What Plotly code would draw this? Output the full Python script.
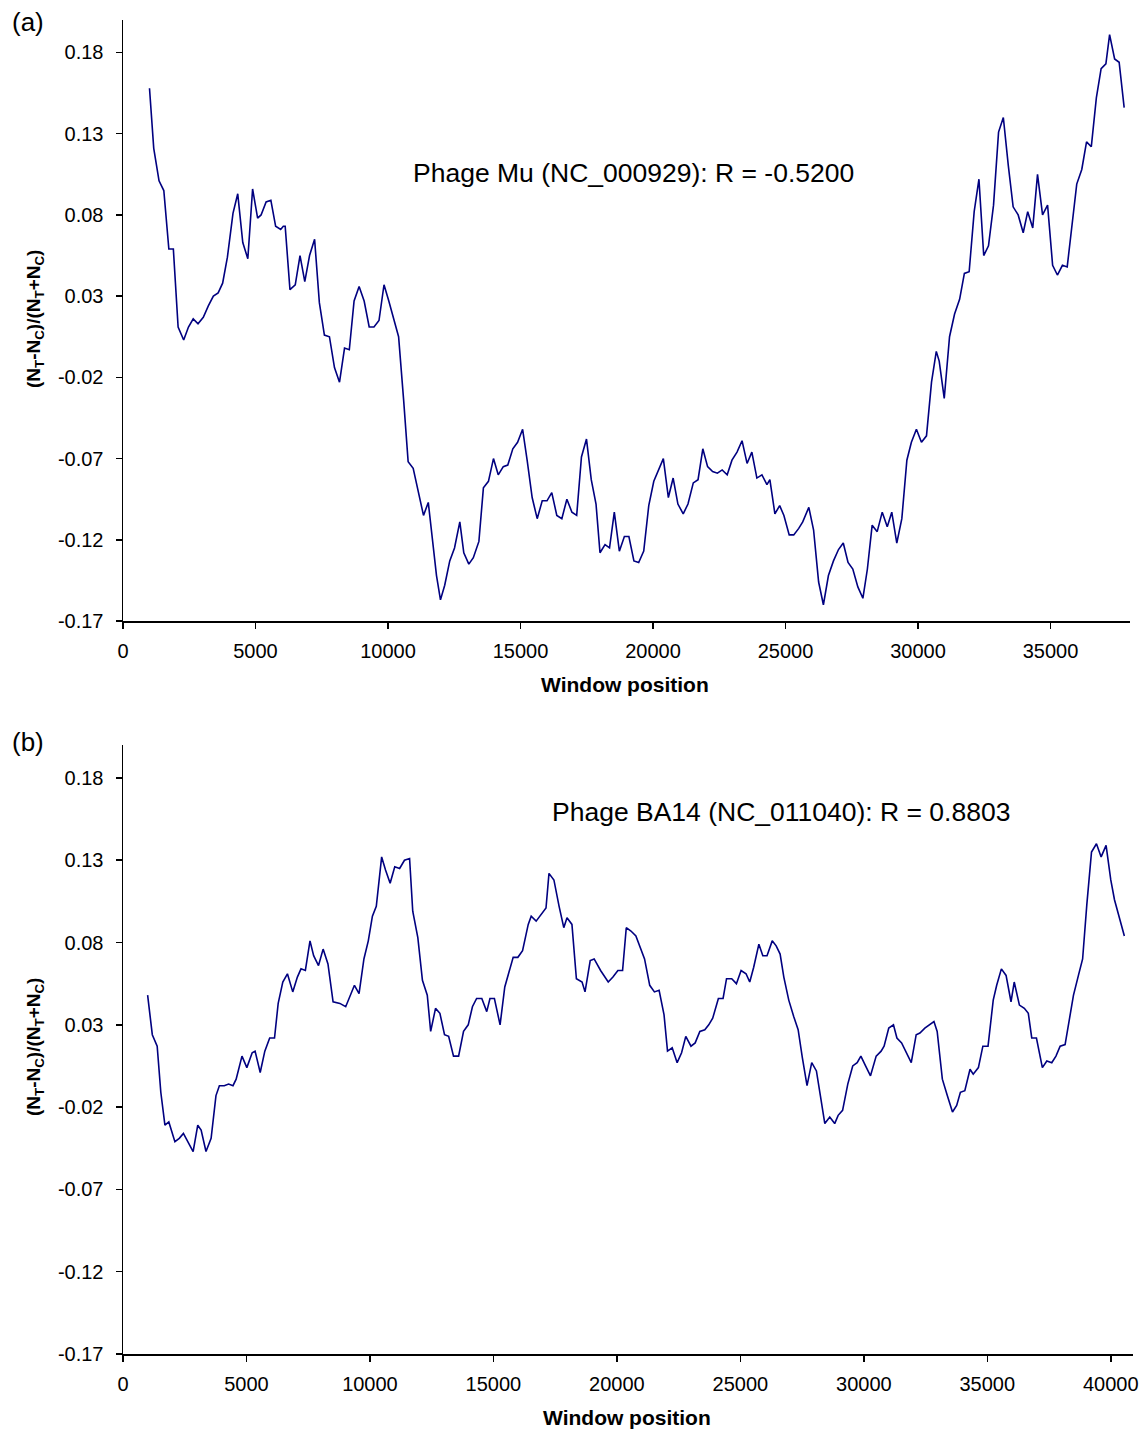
import plotly.graph_objects as go

# ---------------- data: panel (a) Phage Mu ----------------
mu_pos = [1000, 1160, 1360, 1540, 1730, 1900, 2080, 2290, 2470, 2650, 2830, 3030, 3220, 3410,
          3590, 3760, 3940, 4150, 4330, 4520, 4710, 4890, 5080, 5210, 5400, 5580, 5760, 5950,
          6050, 6120, 6300, 6500, 6680, 6860, 7040, 7230, 7410, 7600, 7790, 7980, 8170, 8360,
          8540, 8720, 8910, 9100, 9290, 9470, 9660, 9850, 10030, 10210, 10400, 10590, 10760,
          10950, 11140, 11340, 11520, 11670, 11830, 11980, 12140, 12330, 12510, 12710, 12860,
          13050, 13220, 13430, 13600, 13790, 13980, 14160, 14350, 14520, 14710, 14890, 15080,
          15250, 15440, 15630, 15820, 16000, 16180, 16370, 16560, 16750, 16940, 17120, 17300,
          17490, 17670, 17850, 18000, 18190, 18360, 18540, 18730, 18920, 19090, 19280, 19460,
          19650, 19840, 20030, 20200, 20390, 20580, 20760, 20940, 21140, 21320, 21520, 21700,
          21880, 22060, 22250, 22430, 22610, 22800, 22980, 23170, 23360, 23550, 23730, 23920,
          24110, 24300, 24410, 24600, 24780, 24940, 25140, 25310, 25500, 25650, 25880, 26060,
          26250, 26430, 26620, 26810, 27000, 27180, 27360, 27540, 27730, 27920, 28090, 28270,
          28460, 28650, 28840, 29010, 29200, 29390, 29580, 29750, 29940, 30130, 30320, 30510,
          30690, 30800, 30990, 31190, 31380, 31570, 31750, 31930, 32120, 32300, 32480, 32660,
          32850, 33040, 33220, 33410, 33590, 33780, 33970, 34140, 34330, 34510, 34700, 34890,
          35080, 35260, 35450, 35630, 35820, 35990, 36180, 36360, 36540, 36730, 36910, 37090,
          37230, 37420, 37590, 37780]
mu_skew = [0.158, 0.121, 0.101, 0.095, 0.059, 0.059, 0.011, 0.003, 0.011, 0.016, 0.013, 0.017,
           0.024, 0.030, 0.032, 0.038, 0.054, 0.081, 0.093, 0.063, 0.053, 0.096, 0.078, 0.080,
           0.088, 0.089, 0.073, 0.071, 0.073, 0.073, 0.034, 0.037, 0.055, 0.039, 0.055, 0.065,
           0.026, 0.006, 0.005, -0.014, -0.023, -0.002, -0.003, 0.027, 0.036, 0.027, 0.011,
           0.011, 0.015, 0.037, 0.027, 0.017, 0.005, -0.034, -0.072, -0.076, -0.090, -0.105,
           -0.097, -0.119, -0.142, -0.157, -0.148, -0.133, -0.125, -0.109, -0.128, -0.135,
           -0.131, -0.121, -0.088, -0.084, -0.070, -0.080, -0.075, -0.074, -0.064, -0.060,
           -0.052, -0.071, -0.094, -0.107, -0.096, -0.096, -0.091, -0.105, -0.107, -0.095,
           -0.103, -0.105, -0.069, -0.058, -0.083, -0.098, -0.128, -0.123, -0.125, -0.103,
           -0.127, -0.118, -0.118, -0.133, -0.134, -0.127, -0.099, -0.084, -0.077, -0.070,
           -0.094, -0.082, -0.098, -0.104, -0.098, -0.085, -0.083, -0.064, -0.075, -0.078,
           -0.079, -0.077, -0.080, -0.071, -0.066, -0.059, -0.073, -0.066, -0.082, -0.080,
           -0.086, -0.083, -0.104, -0.099, -0.105, -0.117, -0.117, -0.113, -0.109, -0.100,
           -0.114, -0.146, -0.160, -0.142, -0.133, -0.126, -0.122, -0.134, -0.138, -0.149,
           -0.156, -0.138, -0.111, -0.115, -0.103, -0.112, -0.103, -0.122, -0.107, -0.071,
           -0.060, -0.052, -0.060, -0.056, -0.023, -0.004, -0.010, -0.033, 0.005, 0.019,
           0.028, 0.044, 0.045, 0.082, 0.102, 0.055, 0.061, 0.086, 0.131, 0.140, 0.110,
           0.085, 0.080, 0.069, 0.082, 0.072, 0.105, 0.080, 0.086, 0.049, 0.043, 0.049,
           0.048, 0.076, 0.099, 0.108, 0.125, 0.122, 0.152, 0.170, 0.173, 0.191, 0.176,
           0.174, 0.146]

# ---------------- data: panel (b) Phage BA14 ----------------
ba_pos = [997, 1187, 1384, 1531, 1698, 1856, 2102, 2279, 2446, 2623, 2840, 3027, 3164, 3361,
          3568, 3765, 3903, 4100, 4277, 4454, 4582, 4818, 5015, 5231, 5349, 5556, 5743, 5940,
          6136, 6284, 6471, 6658, 6874, 7061, 7208, 7385, 7572, 7720, 7917, 8104, 8300, 8507,
          8782, 9018, 9254, 9372, 9559, 9756, 9933, 10100, 10257, 10474, 10631, 10818, 11005,
          11202, 11398, 11605, 11733, 11939, 12126, 12322, 12459, 12656, 12833, 13020, 13187,
          13384, 13590, 13790, 13980, 14150, 14320, 14530, 14730, 14860, 15040, 15270, 15460,
          15640, 15800, 15990, 16180, 16410, 16530, 16730, 16920, 17130, 17250, 17450, 17660,
          17850, 17980, 18180, 18360, 18590, 18710, 18920, 19080, 19340, 19650, 19840, 20040,
          20230, 20380, 20570, 20770, 20960, 21120, 21330, 21520, 21710, 21910, 22050, 22240,
          22440, 22620, 22790, 23000, 23170, 23360, 23560, 23720, 23880, 24110, 24300, 24440,
          24650, 24840, 25030, 25230, 25380, 25540, 25750, 25910, 26080, 26290, 26450, 26610,
          26760, 26960, 27160, 27340, 27510, 27700, 27890, 28080, 28240, 28420, 28620, 28820,
          28960, 29140, 29350, 29550, 29730, 29880, 30070, 30270, 30500, 30700, 30820, 31010,
          31200, 31340, 31530, 31730, 31920, 32120, 32270, 32470, 32660, 32840, 32970, 33180,
          33380, 33590, 33760, 33910, 34090, 34300, 34430, 34640, 34820, 35030, 35240, 35380,
          35570, 35760, 35960, 36090, 36300, 36500, 36660, 36800, 36990, 37230, 37410, 37610,
          37780, 37950, 38150, 38320, 38490, 38690, 38860, 39030, 39220, 39420, 39610, 39810,
          40000, 40150, 40350, 40550]
ba_skew = [0.048, 0.024, 0.017, -0.011, -0.031, -0.029, -0.041, -0.039, -0.036, -0.041,
           -0.047, -0.031, -0.034, -0.047, -0.039, -0.013, -0.007, -0.007, -0.006, -0.007,
           -0.003, 0.011, 0.004, 0.013, 0.014, 0.001, 0.014, 0.022, 0.022, 0.043, 0.056,
           0.061, 0.050, 0.059, 0.064, 0.063, 0.081, 0.072, 0.066, 0.076, 0.067, 0.044,
           0.043, 0.041, 0.050, 0.054, 0.049, 0.070, 0.081, 0.096, 0.102, 0.132, 0.124,
           0.116, 0.126, 0.125, 0.130, 0.131, 0.099, 0.083, 0.057, 0.048, 0.026, 0.040,
           0.037, 0.024, 0.023, 0.011, 0.011, 0.026, 0.030, 0.041, 0.046, 0.046, 0.038,
           0.046, 0.046, 0.030, 0.053, 0.063, 0.071, 0.071, 0.075, 0.091, 0.096, 0.093,
           0.097, 0.101, 0.122, 0.118, 0.102, 0.089, 0.095, 0.091, 0.058, 0.056, 0.050,
           0.069, 0.070, 0.063, 0.056, 0.059, 0.063, 0.063, 0.089, 0.087, 0.084, 0.077,
           0.070, 0.054, 0.050, 0.051, 0.036, 0.014, 0.016, 0.007, 0.013, 0.023, 0.017,
           0.019, 0.026, 0.027, 0.030, 0.034, 0.046, 0.046, 0.058, 0.058, 0.055, 0.063,
           0.061, 0.056, 0.065, 0.079, 0.072, 0.072, 0.081, 0.078, 0.073, 0.059, 0.045,
           0.035, 0.027, 0.010, -0.007, 0.007, 0.002, -0.013, -0.030, -0.026, -0.030,
           -0.025, -0.022, -0.006, 0.005, 0.007, 0.011, 0.005, -0.001, 0.011, 0.014, 0.017,
           0.028, 0.030, 0.022, 0.019, 0.013, 0.007, 0.024, 0.025, 0.028, 0.030, 0.032,
           0.026, -0.003, -0.013, -0.023, -0.019, -0.011, -0.010, 0.003, 0.000, 0.004,
           0.017, 0.017, 0.045, 0.054, 0.064, 0.060, 0.044, 0.056, 0.042, 0.040, 0.037,
           0.022, 0.022, 0.004, 0.008, 0.007, 0.011, 0.017, 0.018, 0.032, 0.048, 0.060,
           0.070, 0.103, 0.135, 0.140, 0.132, 0.139, 0.118, 0.106, 0.095, 0.084]

# ---------------- tick labels ----------------
y_tick_vals = [-0.17, -0.12, -0.07, -0.02, 0.03, 0.08, 0.13, 0.18]
y_tick_text = ["-0.17", "-0.12", "-0.07", "-0.02", "0.03", "0.08", "0.13", "0.18"]
x_ticks_a = [0, 5000, 10000, 15000, 20000, 25000, 30000, 35000]
x_ticks_b = [0, 5000, 10000, 15000, 20000, 25000, 30000, 35000, 40000]

label_a = "Phage Mu (NC_000929): R = -0.5200"
label_b = "Phage BA14 (NC_011040): R = 0.8803"
x_title = "Window position"
y_title = "(N<sub>T</sub>-N<sub>C</sub>)/(N<sub>T</sub>+N<sub>C</sub>)"

FONT = "Liberation Sans, Arial, sans-serif"
LINE = "#000080"

fig = go.Figure()
fig.add_trace(go.Scatter(x=mu_pos, y=mu_skew, mode="lines", line=dict(color=LINE, width=1.6),
                         xaxis="x", yaxis="y", showlegend=False, hoverinfo="skip"))
fig.add_trace(go.Scatter(x=ba_pos, y=ba_skew, mode="lines", line=dict(color=LINE, width=1.6),
                         xaxis="x2", yaxis="y2", showlegend=False, hoverinfo="skip"))

# the page body margin is removed (post_script below), so figure pixels == page pixels
W, H = 1143, 1429
ML, MT = 123, 20
MR = W - 1133
MB = H - 1354
PW = W - ML - MR
PH = H - MT - MB


def px(xpix):
    return (xpix - ML) / PW


def py(ypix):
    return (H - MB - ypix) / PH


axis_common = dict(showline=True, linecolor="black", linewidth=1.5, ticks="outside",
                   ticklen=6, tickwidth=1.5, tickcolor="black", showgrid=False,
                   zeroline=False, automargin=False, ticklabeloverflow="allow",
                   tickfont=dict(family=FONT, size=20, color="black"))

fig.update_layout(
    width=W, height=H,
    margin=dict(l=ML, r=MR, t=MT, b=MB, pad=0),
    paper_bgcolor="white", plot_bgcolor="white",
    font=dict(family=FONT, color="black"),
    hovermode=False,
    xaxis=dict(domain=[0, px(1130)], range=[0, 38000], anchor="y",
               tickvals=x_ticks_a, ticktext=[str(v) for v in x_ticks_a],
               ticklabelstandoff=5, **axis_common),
    yaxis=dict(domain=[py(621), 1], range=[-0.17, 0.20], anchor="x",
               tickvals=y_tick_vals, ticktext=y_tick_text,
               ticklabelstandoff=8, **axis_common),
    xaxis2=dict(domain=[0, 1], range=[0, 40900], anchor="y2",
                tickvals=x_ticks_b, ticktext=[str(v) for v in x_ticks_b],
                ticklabelstandoff=5, **axis_common),
    yaxis2=dict(domain=[0, py(745)], range=[-0.17, 0.20], anchor="x2",
                tickvals=y_tick_vals, ticktext=y_tick_text,
                ticklabelstandoff=8, **axis_common),
)


def note(text, xpix, ypix, size, angle=0):
    return dict(text=text, x=px(xpix), y=py(ypix), xref="paper", yref="paper",
                xanchor="center", yanchor="middle", showarrow=False, textangle=angle,
                font=dict(family=FONT, size=size, color="black"))


ann = [
    note(label_a, 633, 173, 26.5),
    note(label_b, 781, 812, 26.5),
    note("(a)", 28, 22, 26),
    note("(b)", 28, 742, 26),
    note("<b>" + x_title + "</b>", 625, 684, 21),
    note("<b>" + x_title + "</b>", 627, 1417, 21),
    note("<b>" + y_title + "</b>", 35, 319, 19, -90),
    note("<b>" + y_title + "</b>", 35, 1047, 19, -90),
]
fig.update_layout(annotations=ann)

fig.write_html("out.html",
               config={"displayModeBar": False, "staticPlot": True},
               post_script="document.body.style.margin='0';"
                           "document.body.style.overflow='hidden';")
